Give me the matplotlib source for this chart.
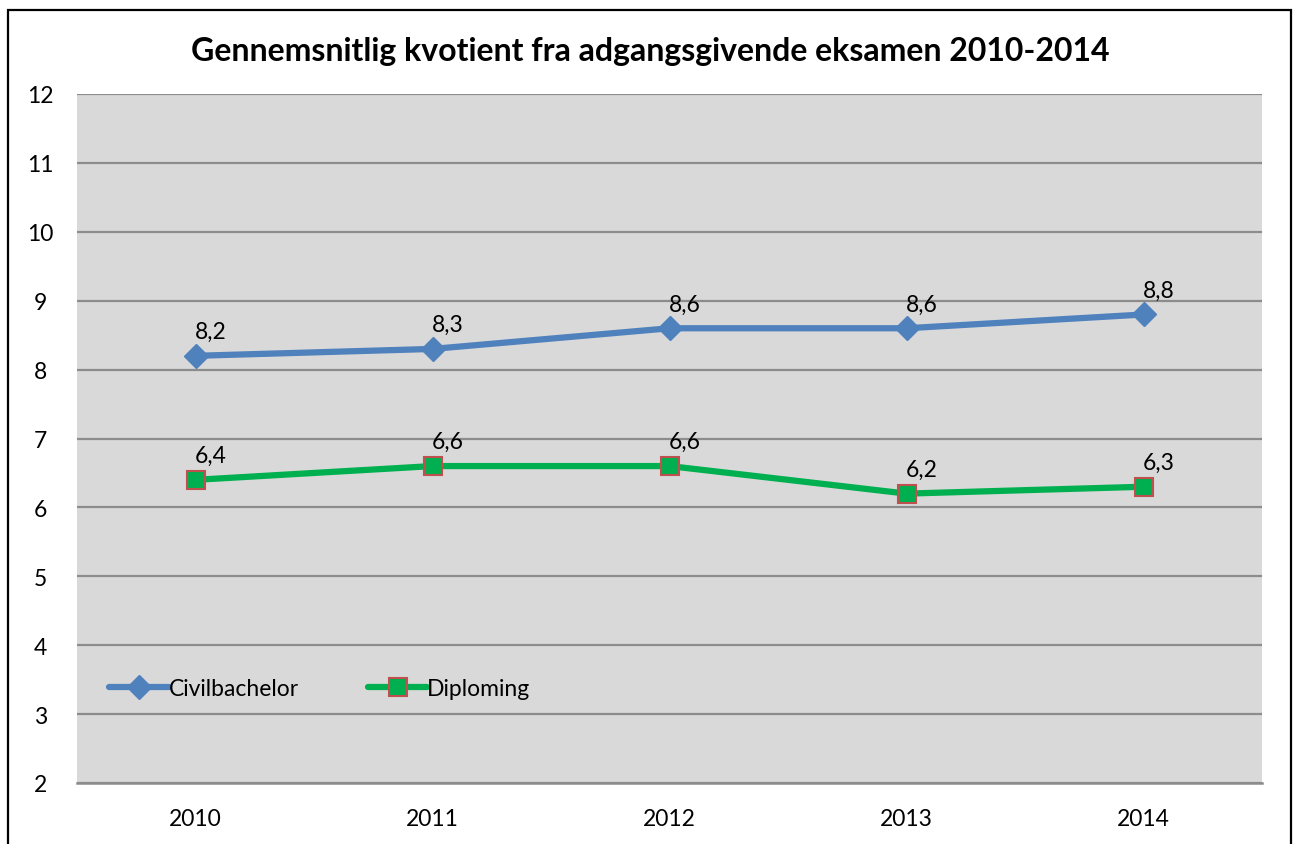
import matplotlib
matplotlib.use("Agg")
import matplotlib.pyplot as plt
from matplotlib.patches import Rectangle

years = ["2010", "2011", "2012", "2013", "2014"]
civil = [8.2, 8.3, 8.6, 8.6, 8.8]
diplom = [6.4, 6.6, 6.6, 6.2, 6.3]
civil_labels = ["8,2", "8,3", "8,6", "8,6", "8,8"]
diplom_labels = ["6,4", "6,6", "6,6", "6,2", "6,3"]
yticks = [2, 3, 4, 5, 6, 7, 8, 9, 10, 11, 12]

plt.rcParams['font.family'] = ['Lato', 'DejaVu Sans']

W, H = 1293, 845
fig = plt.figure(figsize=(W/100, H/100), dpi=100)
fig.patch.set_facecolor('white')
# outer frame
fig.patches.append(Rectangle((7.5/W, -0.05), (1291-7.5)/W, 1.05 - 10.5/H,
                             transform=fig.transFigure, fill=False,
                             edgecolor='black', linewidth=1.6))

left, right, top, bottom = 77, 1262, 95, 784
ax = fig.add_axes([left/W, 1-bottom/H, (right-left)/W, (bottom-top)/H])
ax.set_facecolor('#D9D9D9')
x = list(range(len(years)))
ax.set_xlim(-0.5, 4.5)
ax.set_ylim(2, 12)
ax.set_yticks(yticks)
ax.set_xticks(x)
ax.set_xticklabels(years)
ax.grid(axis='y', color='#8C8C8C', linewidth=1.6)
ax.axhline(2, color='#8C8C8C', linewidth=1.8, clip_on=False, zorder=1)
ax.set_axisbelow(True)
for s in ax.spines.values():
    s.set_visible(False)
ax.tick_params(length=0, labelsize=16.5)
ax.tick_params(axis='x', pad=18)
ax.tick_params(axis='y', pad=26.5)
for lab in ax.get_yticklabels():
    lab.set_horizontalalignment('center')

ax.plot(x, civil, color='#4F81BD', linewidth=4.5, marker='D', markersize=12,
        markerfacecolor='#4F81BD', markeredgecolor='#4F81BD', label='Civilbachelor',
        solid_capstyle='round', zorder=3)
ax.plot(x, diplom, color='#00B050', linewidth=4.5, marker='s', markersize=13.5,
        markerfacecolor='#00B050', markeredgecolor='#C0504D', markeredgewidth=1.5,
        label='Diploming', solid_capstyle='round', zorder=3)

for xi, v, t in zip(x, civil, civil_labels):
    ax.annotate(t, (xi, v), xytext=(11, 10), textcoords='offset points',
                ha='center', va='bottom', fontsize=16.5)
for xi, v, t in zip(x, diplom, diplom_labels):
    ax.annotate(t, (xi, v), xytext=(11, 10), textcoords='offset points',
                ha='center', va='bottom', fontsize=16.5)

leg = ax.legend(loc='lower left', bbox_to_anchor=(0.0195, 0.108), ncol=2,
                frameon=False, fontsize=16.5, handlelength=2.6, handletextpad=0.0,
                columnspacing=3.0, borderaxespad=0)

fig.text(650/W, 1-52/H, "Gennemsnitlig kvotient fra adgangsgivende eksamen 2010-2014",
         ha='center', va='center', fontsize=23, fontweight='bold')

fig.savefig('out.png', dpi=100)
